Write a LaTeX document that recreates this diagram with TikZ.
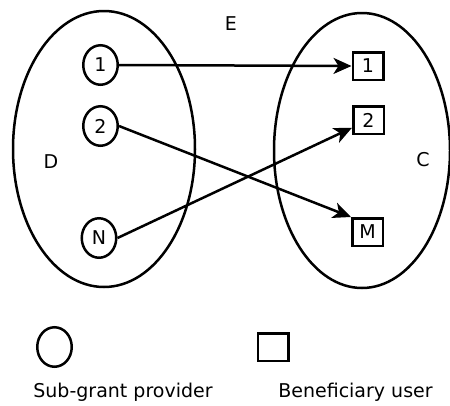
\documentclass[tikz,border=0pt]{standalone}
\usepackage{fontspec}
\setmainfont{DejaVu Sans}
\usetikzlibrary{shapes.geometric,arrows.meta}
\begin{document}
\begin{tikzpicture}[x=1pt,y=-1pt,
  every node/.style={font=\fontsize{19}{23}\selectfont},
  bigset/.style={draw,ellipse,line width=2.5pt,inner sep=0pt},
  provider/.style={draw,ellipse,line width=2.5pt,inner sep=0pt,minimum width=34.5pt,minimum height=39.5pt},
  user/.style={draw,rectangle,line width=2.5pt,inner sep=0pt,minimum width=30.5pt,minimum height=27.5pt},
  link/.style={line width=2.5pt,-{Stealth[length=18pt,width=16pt,inset=5pt]}}]
\useasboundingbox (0,0) rectangle (450,405);
\node[bigset,minimum width=182pt,minimum height=276pt] (Dset) at (104,149) {};
\node[bigset,minimum width=176pt,minimum height=275pt] (Cset) at (362,150.5) {};
\node (Dl) at (51,162) {D};
\node (Cl) at (423,160) {C};
\node (El) at (231,24) {E};
\node[provider] (n1) at (100.5,65) {1};
\node[provider] (n2) at (100.5,126) {2};
\node[provider] (nN) at (99,238) {N};
\node[user] (b1) at (368,66) {1};
\node[user] (b2) at (368.5,120) {2};
\node[user] (bM) at (367.5,232) {M};
\draw[link] (n1.east) -- (b1.west);
\draw[link] (n2.east) -- (bM.north west);
\draw[link] (nN.east) -- (b2);
\node[provider] (lp) at (54.5,347) {};
\node[user] (lu) at (273,347) {};
\node (lpt) at (123,392) {Sub-grant provider};
\node (lut) at (355.5,392) {Beneficiary user};
\end{tikzpicture}
\end{document}
